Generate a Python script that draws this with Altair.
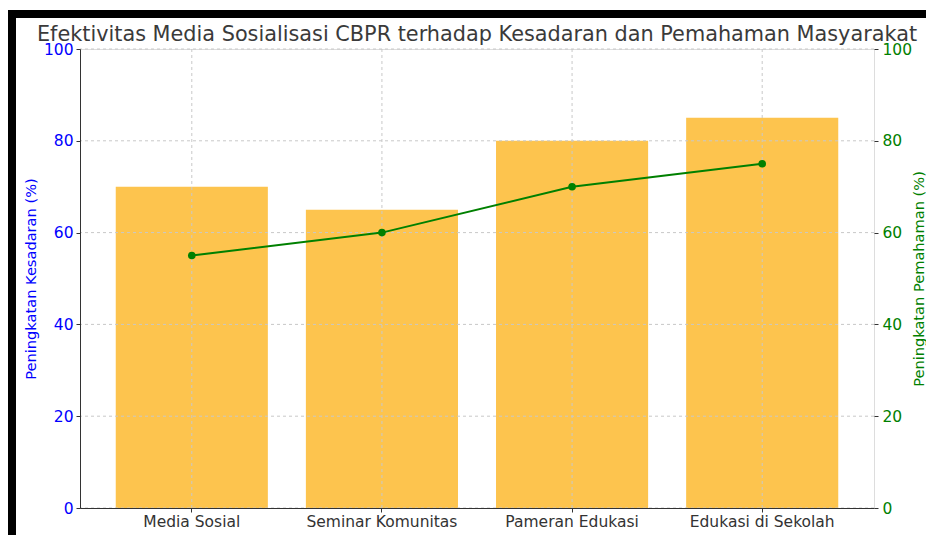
import altair as alt
import pandas as pd

categories = ["Media Sosial", "Seminar Komunitas", "Pameran Edukasi", "Edukasi di Sekolah"]
kesadaran = [70, 65, 80, 85]
pemahaman = [55, 60, 70, 75]
y_ticks = [0, 20, 40, 60, 80, 100]

df = pd.DataFrame({"Media": categories, "Kesadaran": kesadaran, "Pemahaman": pemahaman})
ticks_df = pd.DataFrame({"v": y_ticks})

FONT = "DejaVu Sans"
TXT = "#333333"
GRID = "#c8c8c8"
W, H = 794, 459

x_enc = alt.X(
    "Media:N", sort=categories, title=None,
    scale=alt.Scale(paddingInner=0.2, paddingOuter=0.188),
    axis=alt.Axis(labelAngle=0, grid=False,
                  domainColor=TXT, tickColor=TXT, labelColor=TXT, labelFontSize=15.5,
                  labelFont=FONT, tickSize=4, labelPadding=2, zindex=1),
)

bars = alt.Chart(df).mark_bar(color="#FDC44E").encode(
    x=x_enc,
    y=alt.Y("Kesadaran:Q", scale=alt.Scale(domain=[0, 100]),
            axis=alt.Axis(values=y_ticks, title="Peningkatan Kesadaran (%)", titleColor="#0000FF",
                          labelColor="#0000FF", titleFont=FONT, labelFont=FONT, titleFontSize=14.6,
                          titleFontWeight="normal", labelFontSize=15.5, grid=False,
                          domainColor=TXT, tickColor=TXT, tickSize=4,
                          labelPadding=3, titleX=-49, titleY=H / 2, titleAngle=270,
                          titleAlign="center", titleBaseline="middle", zindex=1)),
)

grid_y = alt.Chart(ticks_df).mark_rule(color=GRID, strokeDash=[3, 3], strokeWidth=1).encode(
    y=alt.Y("v:Q", scale=alt.Scale(domain=[0, 100]), axis=None),
)
grid_x = alt.Chart(df).mark_rule(color=GRID, strokeDash=[3, 3], strokeWidth=1).encode(
    x=alt.X("Media:N", sort=categories),
)

y_right = alt.Y("Pemahaman:Q", scale=alt.Scale(domain=[0, 100]),
                axis=alt.Axis(orient="right", values=y_ticks, title="Peningkatan Pemahaman (%)",
                              titleColor="#008000", labelColor="#008000", titleFont=FONT, labelFont=FONT,
                              titleFontSize=14.6, titleFontWeight="normal", labelFontSize=15.5, grid=False,
                              domain=False, tickColor=TXT, tickSize=4, labelPadding=4,
                              titleX=45, titleY=H / 2, titleAngle=270, titleAlign="center",
                              titleBaseline="middle"))

line = alt.Chart(df).mark_line(color="#008000", strokeWidth=2).encode(
    x=alt.X("Media:N", sort=categories),
    y=y_right,
)
dots = alt.Chart(df).mark_circle(color="#008000", size=58, opacity=1).encode(
    x=alt.X("Media:N", sort=categories),
    y=y_right,
)

frame_df = pd.DataFrame({"f": [0]})
frame_top = alt.Chart(frame_df).mark_rule(color="black", strokeWidth=8).encode(
    x=alt.value(-72), x2=alt.value(860), y=alt.value(-35))
frame_left = alt.Chart(frame_df).mark_rule(color="black", strokeWidth=8).encode(
    x=alt.value(-68), y=alt.value(-39), y2=alt.value(487))

right = alt.layer(line, dots)

chart = alt.layer(bars, grid_y, grid_x, right, frame_top, frame_left).resolve_scale(y="independent").properties(
    width=W, height=H,
    autosize=alt.AutoSizeParams(type="none"),
    padding={"left": 72, "top": 41, "right": 52, "bottom": 27},
    title=alt.TitleParams("Efektivitas Media Sosialisasi CBPR terhadap Kesadaran dan Pemahaman Masyarakat",
                          font=FONT, fontSize=20.8, fontWeight="normal", color="#3a3a3a", anchor="middle",
                          offset=6, dy=46),
).configure_view(stroke=None).configure(background="white")

chart.save("out.html", embed_options={"renderer": "svg", "actions": False})
